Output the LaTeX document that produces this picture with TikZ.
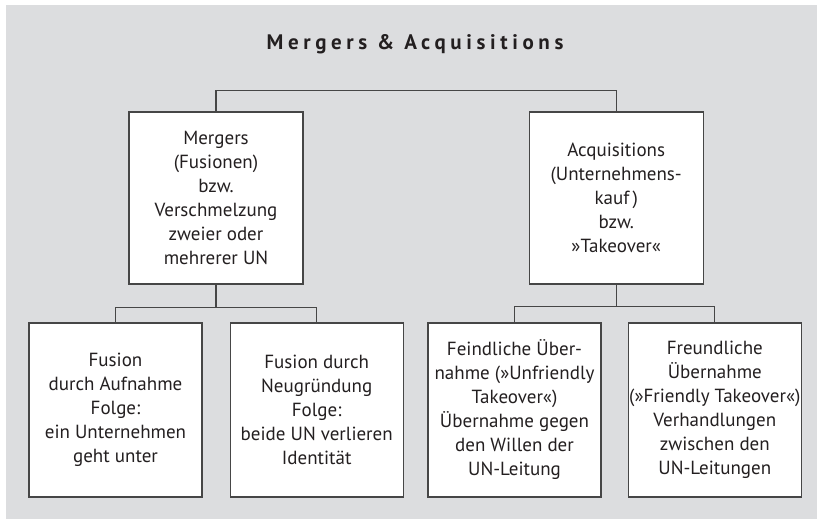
\documentclass[tikz,border=0pt]{standalone}
\usepackage{fontspec}
\setmainfont{PT Sans}
\newfontfamily\titlefont{PT Sans}[LetterSpace=22]
\usetikzlibrary{positioning}
\definecolor{bggray}{RGB}{220,221,223}
\definecolor{linegray}{RGB}{70,70,70}
\definecolor{inkblack}{RGB}{35,31,32}

\begin{document}
\begin{tikzpicture}[x=1pt,y=-1pt,
  line width=1.2pt,
  main box/.style={draw=linegray,fill=white,align=center,text=inkblack,
    inner xsep=1pt,font=\fontsize{19pt}{24pt}\selectfont},
  top box/.style={main box,minimum width=174pt,minimum height=172pt},
  sub box/.style={main box,minimum width=173pt,minimum height=174pt},
  link/.style={draw=linegray}]
\useasboundingbox (0,0) rectangle (817,519);
\fill[bggray] (6,5) rectangle (817,519);
%title
  \node[anchor=base,text=inkblack,font=\titlefont\bfseries\fontsize{21pt}{24pt}\selectfont]
    (title) at (415,50) {Mergers \& Acquisitions};
%mergers
  \node[top box] (merg) at (216,198)
    {Mergers\\(Fusionen)\\bzw.\\Verschmelzung\\zweier oder\\mehrerer UN};
%acquisitions
  \node[top box] (acqu) [right=225pt of merg]
    {Acquisitions\\(Unternehmens-\\kauf\,)\\bzw.\\»Takeover«};
%fusion 1
  \node[sub box] (aufn) at (115.5,410)
    {Fusion\\durch Aufnahme\\Folge:\\ein Unternehmen\\geht unter};
%fusion 2
  \node[sub box] (neug) [right=27pt of aufn]
    {Fusion durch\\Neugründung\\Folge:\\beide UN verlieren\\Identität};
%unfriendly
  \node[sub box] (feind) at (514.5,410)
    {Feindliche Über-\\nahme (»Unfriendly\\Takeover«)\\Übernahme gegen\\den Willen der\\UN-Leitung};
%friendly
  \node[sub box] (freund) [right=26pt of feind]
    {Freundliche\\Übernahme\\(»Friendly Takeover«)\\Verhandlungen\\zwischen den\\UN-Leitungen};
%paths
  \draw[link] (merg.north) -- ++(0,21pt) -| (acqu.north);
  \draw[link] (merg.south) -- ++(0,-23pt) coordinate (mj);
  \draw[link] (aufn.north) |- (mj) -| (neug.north);
  \draw[link] (acqu.south) -- ++(0,-22pt) coordinate (aj);
  \draw[link] (feind.north) |- (aj) -| (freund.north);
\end{tikzpicture}
\end{document}
